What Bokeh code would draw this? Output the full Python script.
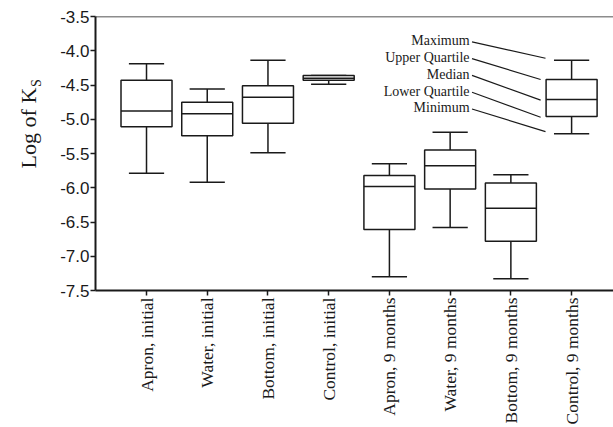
import math
from bokeh.plotting import figure
from bokeh.layouts import row
from bokeh.models import Range1d, FixedTicker, PrintfTickFormatter, Span, Label, ColumnDataSource
from bokeh.embed import file_html
from bokeh.resources import INLINE

categories = ["Apron, initial", "Water, initial", "Bottom, initial", "Control, initial",
              "Apron, 9 months", "Water, 9 months", "Bottom, 9 months", "Control, 9 months"]
maximum = [-4.19, -4.56, -4.14, -4.36, -5.65, -5.19, -5.81, -4.14]
upper_q = [-4.43, -4.75, -4.51, -4.36, -5.82, -5.45, -5.93, -4.42]
median = [-4.88, -4.92, -4.68, -4.40, -5.98, -5.68, -6.30, -4.71]
lower_q = [-5.11, -5.24, -5.06, -4.43, -6.61, -6.02, -6.78, -4.96]
minimum = [-5.79, -5.92, -5.49, -4.49, -7.30, -6.58, -7.33, -5.21]
y_ticks = [-7.5, -7.0, -6.5, -6.0, -5.5, -5.0, -4.5, -4.0, -3.5]

key_labels = ["Maximum", "Upper Quartile", "Median", "Lower Quartile", "Minimum"]
key_text_y = [-3.855, -4.10, -4.345, -4.59, -4.835]
key_end_x = [7.57, 7.49, 7.49, 7.49, 7.57]
key_end_y = [-4.11, -4.42, -4.72, -4.97, -5.18]

xs = list(range(1, len(categories) + 1))
BOX_W = 0.84
CAP_W = 0.58
serif = "Liberation Serif"
sans = "Liberation Sans"
ink = "#1a1a1a"

# ---- narrow strip holding the y-axis title (with subscript) ----
TW = 45
tf = figure(width=TW, height=427, output_backend="svg", toolbar_location=None,
            x_range=Range1d(0, TW), y_range=Range1d(427, 0),
            min_border=0, min_border_left=0, min_border_right=0,
            min_border_top=0, min_border_bottom=0)
tf.axis.visible = False
tf.grid.visible = False
tf.outline_line_color = None
tf.background_fill_color = "white"
tf.border_fill_color = "white"
tf.add_layout(Label(x=28, y=111, text="Log of K", angle=math.pi / 2, text_font=serif,
                    text_font_size="22px", text_align="right", text_baseline="alphabetic",
                    text_color=ink))
tf.add_layout(Label(x=36, y=110, text="S", angle=math.pi / 2, text_font=serif,
                    text_font_size="14px", text_align="left", text_baseline="alphabetic",
                    text_color=ink))

# ---- main chart ----
p = figure(width=613 - TW, height=427, output_backend="svg", toolbar_location=None,
           x_range=Range1d(0.16, 8.69), y_range=Range1d(-7.5, -3.5),
           min_border_left=95 - TW, min_border_right=0, min_border_top=16, min_border_bottom=135)
p.background_fill_color = "white"
p.border_fill_color = "white"
p.outline_line_color = None
p.grid.visible = False

src = ColumnDataSource(dict(x=xs, mx=maximum, uq=upper_q, md=median, lq=lower_q, mn=minimum,
                            l=[x - BOX_W / 2 for x in xs], r=[x + BOX_W / 2 for x in xs],
                            cl=[x - CAP_W / 2 for x in xs], cr=[x + CAP_W / 2 for x in xs]))

# whisker stems
p.segment(x0="x", y0="uq", x1="x", y1="mx", source=src, line_color=ink, line_width=1.5)
p.segment(x0="x", y0="lq", x1="x", y1="mn", source=src, line_color=ink, line_width=1.5)
# caps
p.segment(x0="cl", y0="mx", x1="cr", y1="mx", source=src, line_color=ink, line_width=1.5)
p.segment(x0="cl", y0="mn", x1="cr", y1="mn", source=src, line_color=ink, line_width=1.5)
# boxes
p.quad(left="l", right="r", top="uq", bottom="lq", source=src,
       fill_color="white", line_color=ink, line_width=1.5)
# medians
p.segment(x0="l", y0="md", x1="r", y1="md", source=src, line_color=ink, line_width=1.5)

# key annotation
key_x = 6.32
for lab, ty in zip(key_labels, key_text_y):
    p.add_layout(Label(x=key_x, y=ty, text=lab, text_font=serif, text_font_size="14px",
                       text_align="right", text_baseline="middle", text_color=ink))
p.segment(x0=[key_x + 0.04] * len(key_labels), y0=[t - 0.015 for t in key_text_y],
          x1=key_end_x, y1=key_end_y, line_color=ink, line_width=1.2)

# top border line
p.add_layout(Span(location=-3.5, dimension="width", line_color=ink, line_width=1.5))

# axes
yax = p.yaxis[0]
yax.ticker = FixedTicker(ticks=y_ticks)
yax.formatter = PrintfTickFormatter(format="%.1f")
yax.axis_line_width = 2
yax.axis_line_color = ink
yax.major_tick_line_color = ink
yax.major_tick_line_width = 1.5
yax.major_tick_in = 0
yax.major_tick_out = 5
yax.minor_tick_line_color = None
yax.major_label_text_font = sans
yax.major_label_text_font_size = "17px"
yax.major_label_text_color = ink
yax.major_label_standoff = 1

xax = p.xaxis[0]
xax.ticker = FixedTicker(ticks=xs)
xax.major_label_overrides = {x: c for x, c in zip(xs, categories)}
xax.major_label_orientation = math.pi / 2
xax.axis_line_width = 2
xax.axis_line_color = ink
xax.major_tick_line_color = ink
xax.major_tick_line_width = 1.5
xax.major_tick_in = 0
xax.major_tick_out = 5
xax.minor_tick_line_color = None
xax.major_label_text_font = serif
xax.major_label_text_font_size = "17.5px"
xax.major_label_text_color = ink
xax.major_label_standoff = 2

layout = row(tf, p, spacing=0)
open("out.html", "w").write(file_html(layout, INLINE))
